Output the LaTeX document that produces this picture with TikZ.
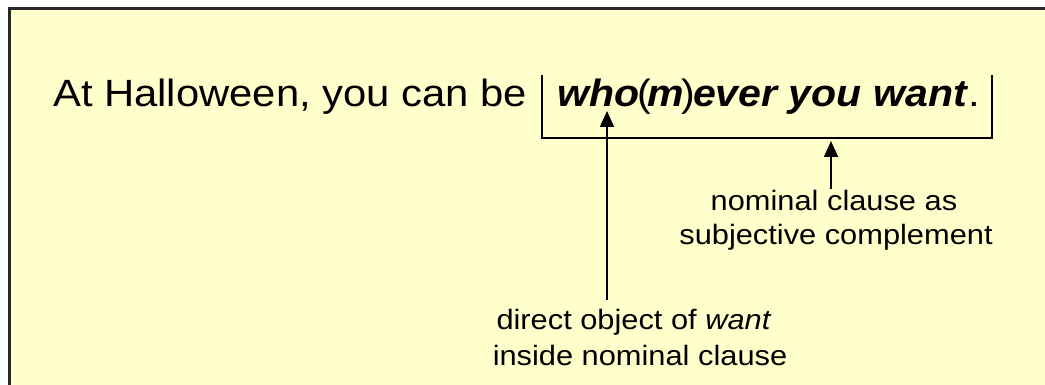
\documentclass[tikz,border=0pt]{standalone}
\usepackage{fontspec}
\setmainfont{Liberation Sans}
\newfontfamily\widefont[FakeStretch=1.1]{Liberation Sans}
\newfontfamily\boldwidefont[FakeStretch=1.08]{Liberation Sans}
\usetikzlibrary{arrows.meta}
\definecolor{bgyellow}{RGB}{255,255,204}
\definecolor{framegray}{RGB}{40,40,40}
\tikzset{
  maintext/.style={inner sep=0pt, anchor=base west, font=\widefont\fontsize{38}{44}\selectfont},
  emphtext/.style={inner sep=0pt, anchor=base west, font=\boldwidefont\fontsize{38}{44}\selectfont},
  labeltext/.style={inner sep=0pt, anchor=base, font=\widefont\fontsize{28}{33}\selectfont},
  bracketline/.style={line width=1.8pt, black},
  pointer/.style={line width=1.8pt, black, -{Triangle[width=14pt,length=16pt]}},
  frameline/.style={line width=3pt, framegray}
}
\begin{document}
\begin{tikzpicture}[x=1pt,y=-1pt]
\useasboundingbox (0,0) rectangle (1045,385);
\fill[white] (0,0) rectangle (1045,385);
\fill[bgyellow] (9.5,9) rectangle (1045,385);
\draw[frameline] (9.5,385) -- (9.5,9) -- (1045,9);

\node[maintext] (s1) at (53,107) {At Halloween, you can be};
\node[emphtext] (s2) at (557,107) {\textbf{\textit{who}}\kern-2pt(\kern-3pt\textbf{\textit{m}}\kern-3pt)\kern-2pt\textbf{\textit{ever you want}}};
\node[maintext] (dot) at (s2.base east) {.};

\coordinate (bl) at (542,75);
\coordinate (br) at (992,75);
\coordinate (bb) at (542,138);
\draw[bracketline] (bl) |- (br |- bb) -- (br);

\node[labeltext] (n1) at (834,211) {nominal clause as};
\node[labeltext] (n2) at (836,244) {subjective complement};
\node[labeltext] (d1) at (634,329) {direct object of \textit{want}};
\node[labeltext] (d2) at (640,365) {inside nominal clause};

\coordinate (t1) at (607,111);
\coordinate (f1) at (607,300);
\coordinate (t2) at (831,141);
\coordinate (f2) at (831,189);
\draw[pointer] (f1) -- (t1);
\draw[pointer] (f2) -- (t2);
\end{tikzpicture}
\end{document}
